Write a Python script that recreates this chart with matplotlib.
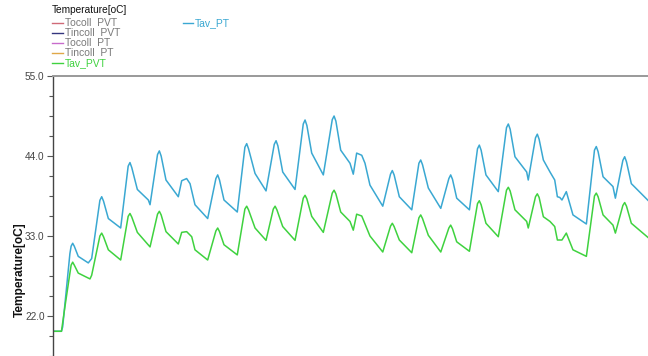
import matplotlib.pyplot as plt
from matplotlib.ticker import FixedLocator, MultipleLocator

# time in hours, average temperatures in degC
t_pt = [0, 7, 8, 14, 15, 16.3, 17.6, 20.9, 29.2, 32.0, 38.8, 40.3, 41.8, 45.8, 56.0,
        62.2, 63.7, 65.2, 69.8, 78.9, 80.3, 86.5, 88.0, 89.5, 93.5, 103.7, 106.5,
        110.6, 113.4, 117.5, 128.0, 134.8, 136.3, 137.8, 141.5, 152.5, 158.8, 160.3,
        161.8, 167.2, 176.3, 183.1, 184.6, 186.1, 190.1, 200.3, 207.1, 208.6, 210.1,
        214.1, 223.7, 231.1, 232.6, 234.1, 238.1, 245.8, 248.5, 251.3, 255.5, 258.2,
        262.3, 272.9, 279.3, 280.8, 282.3, 286.6, 296.9, 302.8, 304.3, 305.8, 310.6,
        320.9, 327.6, 329.1, 330.6, 334.1, 344.6, 351.3, 352.8, 354.3, 358.3, 368.5,
        375.3, 376.8, 378.3, 382.3, 392.0, 393.3, 399.3, 400.8, 402.3, 405.8, 411.3,
        415.2, 417.4, 419.4, 421.2, 424.8, 430.3, 441.4, 448.1, 449.6, 451.1, 455.2,
        463.4, 465.4, 471.6, 473.1, 474.6, 478.6, 492.4]
tav_pt = [19.9, 19.9, 20.5, 30.6, 31.6, 32.0, 31.6, 30.2, 29.3, 29.9, 37.9, 38.4, 37.8,
          35.4, 34.1, 42.6, 43.1, 42.4, 39.4, 37.95, 37.3, 44.2, 44.7, 44.0, 40.7,
          38.4, 40.6, 40.9, 40.2, 37.3, 35.4, 40.9, 41.4, 40.7, 37.95, 36.3, 45.2,
          45.7, 45.0, 41.6, 39.2, 45.6, 46.1, 45.4, 41.8, 39.4, 48.4, 48.95, 48.2,
          44.4, 41.4, 49.0, 49.5, 48.8, 44.8, 43.0, 41.5, 44.4, 44.1, 43.0, 40.0,
          37.1, 41.5, 42.0, 41.4, 38.4, 36.6, 43.0, 43.45, 42.8, 39.6, 36.8, 40.9,
          41.4, 40.8, 38.2, 36.6, 45.0, 45.5, 44.8, 41.4, 39.1, 47.9, 48.4, 47.7,
          43.9, 41.8, 40.7, 46.5, 47.0, 46.3, 43.45, 41.8, 40.7, 38.4, 38.3, 37.95,
          39.1, 35.9, 34.65, 44.8, 45.3, 44.6, 41.15, 39.8, 38.2, 43.4, 43.9, 43.2,
          40.2, 37.9]

t_pvt = [0, 7, 9.9, 14, 15, 16.3, 17.6, 20.9, 30.6, 32.0, 38.8, 40.3, 41.8, 45.8, 56.0,
         62.2, 63.7, 65.2, 69.8, 80.3, 86.5, 88.0, 89.5, 93.5, 103.7, 106.5, 110.6,
         114.8, 117.5, 128.0, 134.8, 136.3, 137.8, 141.5, 152.5, 158.8, 160.3, 161.8,
         167.2, 176.3, 182.3, 183.8, 185.3, 190.1, 200.3, 207.1, 208.6, 210.1, 214.1,
         223.7, 231.1, 232.6, 234.1, 238.1, 245.8, 248.5, 251.3, 255.5, 262.3, 272.9,
         279.3, 280.8, 282.3, 286.6, 296.9, 302.8, 304.3, 305.8, 310.6, 320.9, 327.6,
         329.1, 330.6, 334.1, 344.6, 351.3, 352.8, 354.3, 358.3, 368.5, 375.3, 376.8,
         378.3, 382.3, 392.0, 393.3, 399.3, 400.8, 402.3, 405.8, 411.3, 415.2, 417.4,
         421.2, 424.8, 430.3, 441.4, 448.1, 449.6, 451.1, 455.2, 463.4, 465.4, 471.6,
         473.1, 474.6, 478.6, 492.4]
tav_pvt = [19.9, 19.9, 23.3, 27.9, 29.0, 29.4, 29.0, 27.9, 27.1, 27.6, 33.0, 33.4, 32.9,
           31.1, 29.7, 35.7, 36.1, 35.6, 33.5, 31.5, 36.0, 36.4, 35.9, 33.6, 31.9,
           33.5, 33.6, 32.9, 31.1, 29.7, 33.7, 34.1, 33.6, 31.8, 30.4, 36.7, 37.1,
           36.6, 34.1, 32.4, 36.7, 37.1, 36.6, 34.3, 32.4, 38.2, 38.6, 38.1, 35.7,
           33.5, 38.9, 39.3, 38.8, 36.3, 35.0, 33.8, 36.0, 35.75, 33.0, 30.8, 34.35,
           34.75, 34.3, 32.45, 30.7, 35.5, 35.9, 35.4, 33.1, 30.8, 34.1, 34.5, 34.0,
           32.2, 30.9, 37.45, 37.85, 37.3, 34.75, 32.9, 39.3, 39.7, 39.2, 36.6, 35.0,
           34.1, 38.4, 38.8, 38.3, 35.65, 35.0, 34.3, 32.45, 32.45, 33.4, 31.1, 30.2,
           38.5, 38.9, 38.4, 35.9, 34.5, 33.4, 37.2, 37.6, 37.1, 34.75, 32.8]

y_major = [22.0, 33.0, 44.0, 55.0]
x_marks = [103, 206, 310, 413]

legend_names = ['Tocoll  PVT', 'Tincoll  PVT', 'Tocoll  PT', 'Tincoll  PT', 'Tav_PVT']
legend_colors = ['#d06a78', '#34357e', '#c86ccc', '#e0a848', '#3fd23f']
legend_text = ['#7a7a7a', '#7a7a7a', '#7a7a7a', '#7a7a7a', '#3fd23f']

blue = '#3aa8d2'
green = '#3fd23f'


def main():
    plt.rcParams['font.family'] = ['Liberation Sans', 'DejaVu Sans']
    fig = plt.figure(figsize=(6.48, 3.56), dpi=100)
    W, H = 648, 356

    # axes frame: left spine at x=53px, top at y=76px, bottom runs past the figure
    ax = fig.add_axes([53 / W, 1 - 476 / H, 1 - 53 / W, 400 / H])
    ax.plot(t_pt, tav_pt, color=blue, lw=1.1)
    ax.plot(t_pvt, tav_pvt, color=green, lw=1.1)

    ax.set_xlim(0, 492.4)
    ax.set_ylim(0, 55)
    ax.yaxis.set_major_locator(FixedLocator(y_major))
    ax.yaxis.set_minor_locator(MultipleLocator(2.75))
    ax.set_yticklabels(['%.1f' % v for v in y_major])
    ax.tick_params(axis='y', which='major', length=4, width=0.8, color='#555555',
                   labelsize=7.2, labelcolor='#444444', pad=2)
    ax.tick_params(axis='y', which='minor', length=3, width=0.8, color='#555555')

    # small white notches along the top border
    ax.xaxis.set_major_locator(FixedLocator(x_marks))
    ax.tick_params(axis='x', which='major', bottom=False, top=True, labelbottom=False,
                   direction='inout', length=3, width=1.2, color='white')

    for s in ('right', 'bottom'):
        ax.spines[s].set_visible(False)
    ax.spines['top'].set_color('#999999')
    ax.spines['top'].set_linewidth(1.4)
    ax.spines['left'].set_color('#444444')
    ax.spines['left'].set_linewidth(1.0)

    fig.text(20 / W, 1 - 270 / H, 'Temperature[oC]', rotation=90, fontsize=8.6,
             fontweight='bold', ha='center', va='center', color='#111111')

    # legend block drawn by hand in pixel coordinates
    fig.text(52 / W, 1 - 10 / H, 'Temperature[oC]', fontsize=7.3, color='#111111',
             ha='left', va='center')
    rows = [22.7, 33.3, 43.3, 53.3, 63.3]
    for yy, name, lc, tc in zip(rows, legend_names, legend_colors, legend_text):
        fig.add_artist(plt.Line2D([52 / W, 63 / W], [1 - yy / H] * 2, color=lc, lw=1.0))
        fig.text(65 / W, 1 - yy / H, name, fontsize=7.5, color=tc, ha='left', va='center')
    fig.add_artist(plt.Line2D([183 / W, 193 / W], [1 - 22.7 / H] * 2, color=blue, lw=1.0))
    fig.text(195 / W, 1 - 22.7 / H, 'Tav_PT', fontsize=7.5, color=blue, ha='left',
             va='center')

    fig.savefig('out.png', dpi=100, facecolor='white')


if __name__ == '__main__':
    main()
